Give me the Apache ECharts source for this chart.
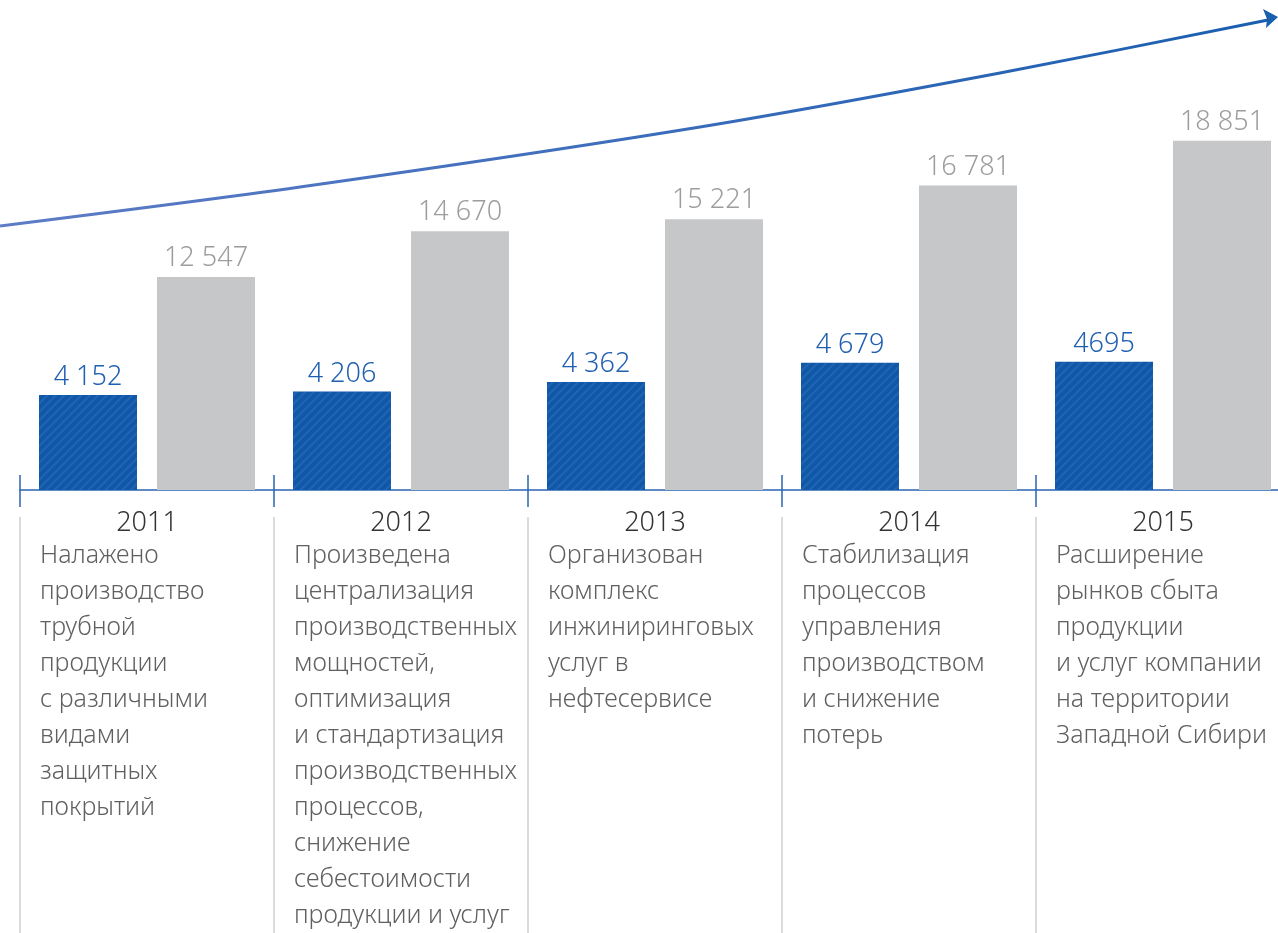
<!DOCTYPE html>
<html><head><meta charset="utf-8">
<script src="https://cdn.jsdelivr.net/npm/echarts@6/dist/echarts.min.js"></script>
<style>html,body{margin:0;padding:0;background:#fff;overflow:hidden;width:1278px;height:933px}#c{width:1300px;height:933px}</style>
</head><body><div id="c"></div>
<script>
// ---- data ----
const years = ['2011', '2012', '2013', '2014', '2015'];
const blueValues = [4152, 4206, 4362, 4679, 4695];
const blueLabels = ['4 152', '4 206', '4 362', '4 679', '4695'];
const grayValues = [12547, 14670, 15221, 16781, 18851];
const grayLabels = ['12 547', '14 670', '15 221', '16 781', '18 851'];
const milestones = [
  ['Налажено', 'производство', 'трубной', 'продукции', 'с различными', 'видами', 'защитных', 'покрытий'],
  ['Произведена', 'централизация', 'производственных', 'мощностей,', 'оптимизация', 'и стандартизация', 'производственных', 'процессов,', 'снижение', 'себестоимости', 'продукции и услуг'],
  ['Организован', 'комплекс', 'инжиниринговых', 'услуг в', 'нефтесервисе'],
  ['Стабилизация', 'процессов', 'управления', 'производством', 'и снижение', 'потерь'],
  ['Расширение', 'рынков сбыта', 'продукции', 'и услуг компании', 'на территории', 'Западной Сибири']
];

const FONT = '"Noto Sans", "Open Sans", sans-serif';
const BLUE = '#0f57a9';
const chart = echarts.init(document.getElementById('c'), null, {renderer: 'canvas'});

chart.setOption({
  backgroundColor: '#ffffff',
  animation: false,
  grid: {left: 20, right: 10, top: 40, bottom: 443},
  xAxis: {
    type: 'category',
    data: years,
    axisLine: {show: true, lineStyle: {color: '#2a64b2', width: 1.5}},
    axisTick: {show: false},
    axisLabel: {color: '#333333', fontSize: 27, fontFamily: FONT, fontWeight: 300, margin: 20}
  },
  yAxis: [
    {type: 'value', min: 2597, max: 9956, show: false, splitLine: {show: false}},
    {type: 'value', min: 2688, max: 23521, show: false, splitLine: {show: false}}
  ],
  series: [
    {
      type: 'bar', name: 'blue', yAxisIndex: 0, data: blueValues,
      barWidth: 98, barGap: '20.4%',
      itemStyle: {
        color: BLUE,
        decal: {symbol: 'rect', symbolSize: 1, color: 'rgba(255,255,255,0.08)', dashArrayX: [1, 0], dashArrayY: [2, 4], rotation: -Math.PI / 4}
      },
      label: {show: true, position: 'top', distance: 4, color: '#1f5fb0', fontSize: 27, fontFamily: FONT, fontWeight: 300,
        formatter: p => blueLabels[p.dataIndex]}
    },
    {
      type: 'bar', name: 'gray', yAxisIndex: 1, data: grayValues,
      barWidth: 98,
      itemStyle: {color: '#c6c7c9'},
      label: {show: true, position: 'top', distance: 5, color: '#9d9d9f', fontSize: 27, fontFamily: FONT, fontWeight: 300,
        formatter: p => grayLabels[p.dataIndex]}
    }
  ]
});

// ---- decorations: separators, ticks, milestone texts, trend arrow ----
const centers = years.map(y => chart.convertToPixel({xAxisIndex: 0}, y));
const band = centers[1] - centers[0];
const axisY = chart.convertToPixel({yAxisIndex: 0}, 2597);
const graphics = [];
centers.forEach((cx, i) => {
  const bx = Math.round(cx - band / 2);
  graphics.push({type: 'line', shape: {x1: bx, y1: axisY - 15, x2: bx, y2: axisY + 17}, style: {stroke: '#2a64b2', lineWidth: 1.5}, z: 10});
  graphics.push({type: 'line', shape: {x1: bx, y1: axisY + 27, x2: bx, y2: 933}, style: {stroke: '#cfcfcf', lineWidth: 1.5}, z: 10});
  graphics.push({type: 'text', x: bx + 20, y: axisY + 48,
    style: {text: milestones[i].join('\n'), fill: '#606060', font: '300 25px ' + FONT, lineHeight: 36, textVerticalAlign: 'top'}, z: 10});
});
graphics.push({
  type: 'polyline', z: 5,
  shape: {points: [[0, 226], [300, 187], [700, 127], [1000, 73], [1268, 20]], smooth: 0.3},
  style: {fill: null, lineWidth: 3,
    stroke: new echarts.graphic.LinearGradient(0, 0, 1, 0, [{offset: 0, color: '#5e7cc6'}, {offset: 1, color: '#1a5eb0'}])}
});
graphics.push({type: 'polygon', z: 6, shape: {points: [[1278, 17], [1263, 9], [1267, 19], [1266, 28]]}, style: {fill: '#1a5eb0'}});
chart.setOption({graphic: graphics});
</script>
</body></html>
